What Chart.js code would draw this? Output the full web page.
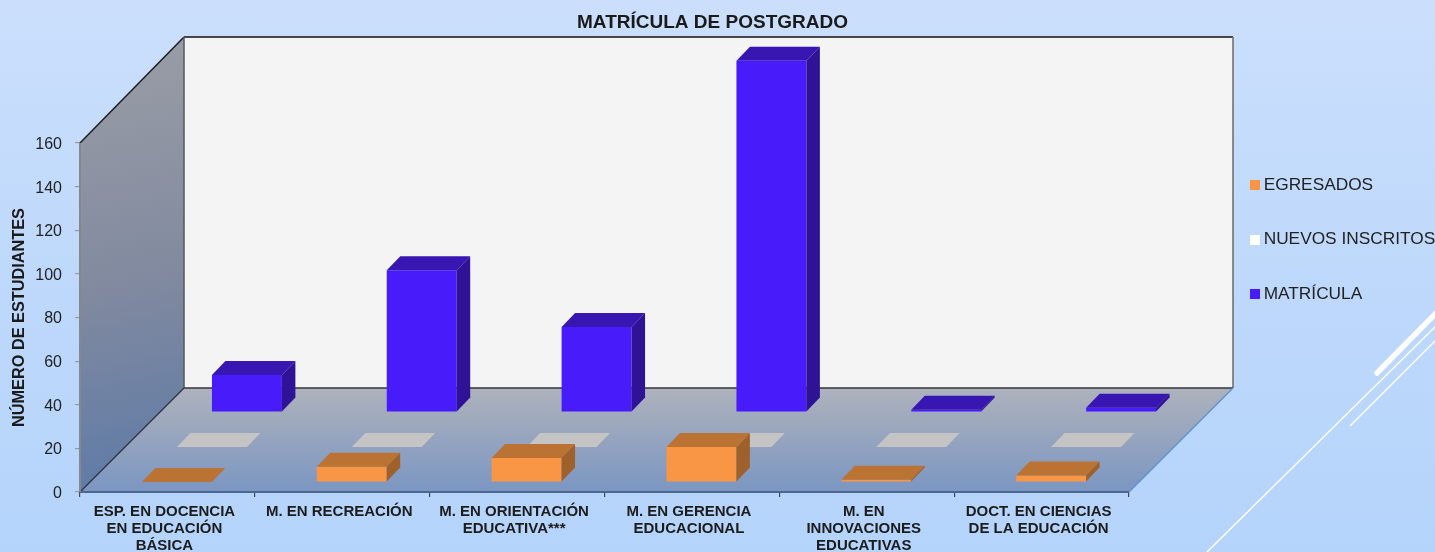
<!DOCTYPE html>
<html>
<head>
<meta charset="utf-8">
<style>
html,body{margin:0;padding:0;width:1435px;height:552px;overflow:hidden;background:linear-gradient(to bottom,#cbdffc 0%,#bdd8fb 55%,#b5d4fb 100%);}
canvas{display:block;}
</style>
<script src="https://cdn.jsdelivr.net/npm/chart.js@4/dist/chart.umd.min.js"></script>
</head>
<body>
<canvas id="c" width="1435" height="552"></canvas>
<script>
const categories = [
  ['ESP. EN DOCENCIA','EN EDUCACIÓN','BÁSICA'],
  'M. EN RECREACIÓN',
  ['M. EN ORIENTACIÓN','EDUCATIVA***'],
  ['M. EN GERENCIA','EDUCACIONAL'],
  ['M. EN','INNOVACIONES','EDUCATIVAS'],
  ['DOCT. EN CIENCIAS','DE LA EDUCACIÓN']
];
const egresados = [0, 7, 11, 16, 1, 3];
const nuevosInscritos = [0, 0, 0, 0, 0, 0];
const matricula = [17, 65, 39, 161, 1, 2];
const yTicks = [0, 20, 40, 60, 80, 100, 120, 140, 160];

const titleText = 'MATRÍCULA DE POSTGRADO';
const yTitle = 'NÚMERO DE ESTUDIANTES';
const FONT = '"Liberation Sans", Arial, sans-serif';

// 3D look: each series sits on its own row of the floor
const rowShift = [[9.5,-10],[44.5,-45],[79.5,-80]];
const faceColors = [
  {top:'#bb7334', side:'#9f612b'},
  {top:'#c4c4c4', side:'#c4c4c4'},
  {top:'#3716b2', side:'#2e1396'}
];
const BAR_DEPTH_X = 13.5, BAR_DEPTH_Y = 14;

function poly(ctx, pts){
  ctx.beginPath();
  pts.forEach((p,i)=> i ? ctx.lineTo(p[0],p[1]) : ctx.moveTo(p[0],p[1]));
  ctx.closePath();
}
function line(ctx, a, b, color, w){
  ctx.strokeStyle = color; ctx.lineWidth = w;
  ctx.beginPath(); ctx.moveTo(a[0],a[1]); ctx.lineTo(b[0],b[1]); ctx.stroke();
}
function swatch(color){
  const c = document.createElement('canvas');
  c.width = 10; c.height = 10;
  const x = c.getContext('2d');
  x.fillStyle = color; x.fillRect(0,0,10,10);
  return c;
}

const decoration = {
  id:'decoration',
  beforeDraw(chart){
    const ctx = chart.ctx;
    ctx.save();
    ctx.lineCap = 'round';
    line(ctx,[1377,373],[1440,309],'#ffffff',5.5);
    ctx.lineCap = 'butt';
    line(ctx,[1207,552],[1440,322],'#ffffff',1.5);
    line(ctx,[1350,426],[1440,336],'#ffffff',1.5);
    ctx.restore();
  }
};

const room = {
  id:'room',
  beforeDatasetsDraw(chart){
    const ctx = chart.ctx, a = chart.chartArea;
    const L=a.left, R=a.right, T=a.top, B=a.bottom;
    const dx=104, dy=104, top=T-106;
    ctx.save();
    // back wall
    ctx.fillStyle='#f4f4f4';
    ctx.fillRect(L+dx,top,R-L,B-dy-top);
    // left wall
    let g = ctx.createLinearGradient(L,top,L+dx,B);
    g.addColorStop(0,'#9b9ea6'); g.addColorStop(0.55,'#80899f'); g.addColorStop(1,'#5c7aa8');
    ctx.fillStyle=g;
    poly(ctx,[[L,T],[L+dx,top],[L+dx,B-dy],[L,B]]); ctx.fill();
    // floor
    g = ctx.createLinearGradient(0,B-dy,0,B);
    g.addColorStop(0,'#aeb2bc'); g.addColorStop(1,'#7b96c2');
    ctx.fillStyle=g;
    poly(ctx,[[L,B],[L+dx,B-dy],[R+dx,B-dy],[R,B]]); ctx.fill();
    // edges
    line(ctx,[L,T],[L+dx,top],'#1c1c22',1.5);
    line(ctx,[L+dx,top],[R+dx,top],'#111',1.5);
    line(ctx,[L+dx,top],[L+dx,B-dy],'#55585f',1.5);
    line(ctx,[R+dx,top],[R+dx,B-dy],'#6a6a6a',1.5);
    line(ctx,[L+dx,B-dy],[R+dx,B-dy],'#33363c',1.5);
    line(ctx,[L,B],[L+dx,B-dy],'#2c3240',1.2);
    line(ctx,[R,B],[R+dx,B-dy],'#5f93d0',1.5);
    line(ctx,[L,B],[R,B],'#4b678f',2);
    line(ctx,[L,T],[L,B],'#84878e',2);
    ctx.restore();
  },
  beforeDatasetDraw(chart,args){
    const s = rowShift[args.index];
    chart.ctx.save();
    chart.ctx.translate(s[0],s[1]);
  },
  afterDatasetDraw(chart,args){
    const ctx = chart.ctx, col = faceColors[args.index];
    const d = BAR_DEPTH_X, e = BAR_DEPTH_Y;
    args.meta.data.forEach(bar=>{
      const l = bar.x-bar.width/2, r = bar.x+bar.width/2, y = bar.y, b = bar.base;
      ctx.fillStyle = col.top;
      poly(ctx,[[l,y],[l+d,y-e],[r+d,y-e],[r,y]]); ctx.fill();
      if (b-y>0.5){
        ctx.fillStyle = col.side;
        poly(ctx,[[r,y],[r+d,y-e],[r+d,b-e],[r,b]]); ctx.fill();
      }
    });
    ctx.restore();
  }
};

const placement = {
  id:'placement',
  afterLayout(chart){
    const lg = chart.legend, p = lg.options.labels.padding;
    lg.left = 1255 - p;
    lg.right = 1435;
    lg.top -= 3.85;
    chart.titleBlock.right = 1425;
  }
};

const makeBar = (label,data,color,swatchColor)=>({
  label,data,backgroundColor:color,borderWidth:0,grouped:false,
  categoryPercentage:0.4,barPercentage:1,clip:false,swatchColor
});

new Chart(document.getElementById('c'),{
  type:'bar',
  data:{
    labels:categories,
    datasets:[
      makeBar('EGRESADOS',egresados,'#f89645','#f89645'),
      makeBar('NUEVOS INSCRITOS',nuevosInscritos,'#ffffff','#ffffff'),
      makeBar('MATRÍCULA',matricula,'#471bfa','#471bfa')
    ]
  },
  plugins:[decoration,room,placement],
  options:{
    responsive:false,
    animation:false,
    events:[],
    layout:{padding:0},
    plugins:{
      tooltip:{enabled:false},
      title:{
        display:true,text:titleText,color:'#1a1a1a',
        font:{family:FONT,size:19,weight:'bold',lineHeight:1.2},
        padding:{top:11.6,bottom:108.6}
      },
      legend:{
        display:true,position:'right',align:'start',fullSize:false,maxWidth:100,
        labels:{
          color:'#222',font:{family:FONT,size:17.3},padding:37.2,
          boxWidth:0.01,usePointStyle:true,
          generateLabels(chart){
            return Chart.defaults.plugins.legend.labels.generateLabels(chart).map((it,i)=>{
              it.pointStyle = swatch(chart.data.datasets[i].swatchColor);
              return it;
            });
          }
        }
      }
    },
    scales:{
      x:{
        grid:{display:true,drawOnChartArea:false,drawTicks:true,tickLength:5,color:'#3c4656',lineWidth:1.2},
        border:{display:false},
        ticks:{color:'#1c1c1c',font:{family:FONT,size:15,weight:'bold',lineHeight:1.13},padding:6,labelOffset:-3,autoSkip:false,maxRotation:0,minRotation:0},
        afterFit(s){s.height=60;}
      },
      y:{
        min:0,max:160,
        grid:{display:true,drawOnChartArea:false,drawTicks:true,tickLength:5,color:'#9a9a9a',lineWidth:1.2},
        border:{display:false},
        afterBuildTicks(s){s.ticks = yTicks.map(v=>({value:v}));},
        ticks:{color:'#222',font:{family:FONT,size:16},padding:13,labelOffset:1.5},
        title:{display:true,text:yTitle,color:'#1a1a1a',font:{family:FONT,size:16.3,weight:'bold',lineHeight:1.2},padding:{top:10,bottom:0}},
        afterFit(s){s.width=80;}
      },
      y2:{
        position:'right',display:true,
        grid:{display:false},border:{display:false},
        ticks:{display:false},
        afterFit(s){s.width=206;}
      }
    }
  }
});
</script>
</body>
</html>
